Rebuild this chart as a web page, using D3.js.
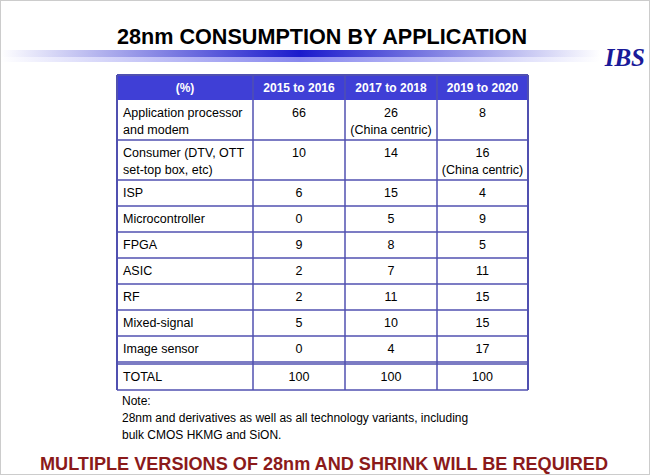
<!DOCTYPE html><html><head><meta charset="utf-8"><script src="https://cdn.jsdelivr.net/npm/d3@7"></script>
<style>body{margin:0;background:#fff}</style></head><body><svg id="c" width="650" height="475"></svg>
<script>
const columns = ["(%)", "2015 to 2016", "2017 to 2018", "2019 to 2020"];
const applications = [["Application processor","and modem"],["Consumer (DTV, OTT","set-top box, etc)"],["ISP"],["Microcontroller"],["FPGA"],["ASIC"],["RF"],["Mixed-signal"],["Image sensor"],["TOTAL"]];
const v2015 = ["66","10","6","0","9","2","2","5","0","100"];
const v2017 = [["26","(China centric)"],"14","15","5","8","7","11","10","4","100"];
const v2019 = ["8",["16","(China centric)"],"4","9","5","11","15","15","17","100"];
const notes = ["Note:","28nm and derivatives as well as all technology variants, including","bulk CMOS HKMG and SiON."];

const svg = d3.select("#c");
const F = "Liberation Sans, Arial, sans-serif";
const defs = svg.append("defs");
const g = defs.append("linearGradient").attr("id","bar");
[[0,"#fff"],[0.5,"#1a1acc"],[1,"#fff"]].forEach(s=>g.append("stop").attr("offset",s[0]).attr("stop-color",s[1]));
const g2 = defs.append("linearGradient").attr("id","bar2");
[[0,"#fff"],[0.5,"#8888ee"],[1,"#fff"]].forEach(s=>g2.append("stop").attr("offset",s[0]).attr("stop-color",s[1]));
svg.append("rect").attr("x",0).attr("y",50).attr("width",600).attr("height",7).attr("fill","url(#bar)");
svg.append("rect").attr("x",0).attr("y",57).attr("width",600).attr("height",5).attr("fill","url(#bar2)");
svg.append("text").attr("x",322).attr("y",44).attr("text-anchor","middle").attr("font-family",F).attr("font-weight","bold").attr("font-size",22).attr("textLength",410).attr("lengthAdjust","spacingAndGlyphs").text("28nm CONSUMPTION BY APPLICATION");
svg.append("text").attr("x",645).attr("y",66).attr("text-anchor","end").attr("font-family","Liberation Serif, serif").attr("font-style","italic").attr("font-weight","bold").attr("font-size",25).attr("fill","#1a1a99").text("IBS");

const colEdges = [117,253,345,437,528];
const rowH = [40,40,26,26,26,26,26,26,26,26];
const rowTop = [100]; rowH.forEach((h,i)=>rowTop.push(rowTop[i]+h+(i==8?2:0)));
const lc = "#5050b0";
svg.append("rect").attr("x",117).attr("y",75).attr("width",411).attr("height",25).attr("fill","#3f3fd6");
columns.forEach((c,i)=>svg.append("text").attr("x",(colEdges[i]+colEdges[i+1])/2).attr("y",92).attr("text-anchor","middle").attr("fill","#fff").attr("font-weight","bold").attr("font-family",F).attr("font-size",12).text(c));
const cols = [v2015,v2017,v2019];
applications.forEach((a,r)=>{
  const top=rowTop[r], base=top+17;
  a.forEach((t,k)=>svg.append("text").attr("x",123).attr("y",base+k*17).attr("font-family",F).attr("font-size",12.5).text(t));
  cols.forEach((col,ci)=>{
    [].concat(col[r]).forEach((t,k)=>svg.append("text").attr("x",(colEdges[ci+1]+colEdges[ci+2])/2).attr("y",base+k*17).attr("text-anchor","middle").attr("font-family",F).attr("font-size",12.5).text(t));
  });
});
const bottom=rowTop[10];
rowTop.forEach((t,i)=>{ if(i>0) svg.append("line").attr("x1",117).attr("x2",528).attr("y1",t).attr("y2",t).attr("stroke",lc).attr("stroke-width",1.5);});
svg.append("line").attr("x1",117).attr("x2",528).attr("y1",rowTop[9]-2).attr("y2",rowTop[9]-2).attr("stroke",lc).attr("stroke-width",1.5);
colEdges.forEach(x=>svg.append("line").attr("x1",x).attr("x2",x).attr("y1",75).attr("y2",bottom).attr("stroke",lc).attr("stroke-width",x==117||x==528?2:1.5));
svg.append("line").attr("x1",117).attr("x2",528).attr("y1",75).attr("y2",75).attr("stroke",lc).attr("stroke-width",2);
notes.forEach((n,i)=>svg.append("text").attr("x",122).attr("y",405+i*17).attr("font-family",F).attr("font-size",12).text(n));
svg.append("text").attr("x",324).attr("y",470).attr("text-anchor","middle").attr("font-family",F).attr("font-weight","bold").attr("font-size",18).attr("textLength",568).attr("lengthAdjust","spacingAndGlyphs").attr("fill","#8b1a1a").text("MULTIPLE VERSIONS OF 28nm AND SHRINK WILL BE REQUIRED");
svg.append("rect").attr("x",0.5).attr("y",0.5).attr("width",649).attr("height",474).attr("fill","none").attr("stroke","#ccc");
</script></body></html>
